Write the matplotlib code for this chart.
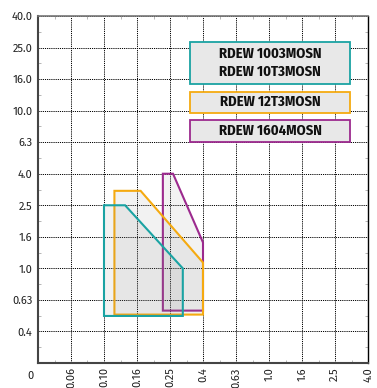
import numpy as np
import matplotlib
matplotlib.use('Agg')
import matplotlib.pyplot as plt
from matplotlib.patches import Rectangle

plt.rcParams['font.family'] = ['Fira Sans', 'DejaVu Sans']

# tick values (equal spacing on the chart)
x_ticks = [0.06, 0.10, 0.16, 0.25, 0.4, 0.63, 1.0, 1.6, 2.5, 4.0]
x_labels = ['0.06', '0.10', '0.16', '0.25', '0.4', '0.63', '1.0', '1.6', '2.5', '4.0']
y_ticks = [0.4, 0.63, 1.0, 1.6, 2.5, 4.0, 6.3, 10.0, 16.0, 25.0, 40.0]
y_labels = ['0.4', '0.63', '1.0', '1.6', '2.5', '4.0', '6.3', '10.0', '16.0', '25.0', '40.0']

# working areas (x, y) for each insert
teal_x = [0.10, 0.10, 0.135, 0.30, 0.30]
teal_y = [0.50, 2.5, 2.5, 1.0, 0.50]
orange_x = [0.116, 0.116, 0.168, 0.40, 0.40]
orange_y = [0.51, 3.1, 3.1, 1.09, 0.51]
purple_x = [0.227, 0.227, 0.261, 0.40, 0.40]
purple_y = [0.54, 4.0, 4.0, 1.47, 0.54]

legend_names = [['RDEW 1003MOSN', 'RDEW 10T3MOSN'], ['RDEW 12T3MOSN'], ['RDEW 1604MOSN']]
colors = ['#1aa3a3', '#f5aa10', '#9c2a8e']


def make_scale(ticks):
    # tick values sit on whole steps, with one extra step below the first tick
    vals = np.array([ticks[0] / 1.6] + list(ticks))
    idx = np.arange(len(vals), dtype=float)
    lv = np.log(vals)

    def fwd(v):
        v = np.clip(np.asarray(v, dtype=float), 1e-9, None)
        return np.interp(np.log(v), lv, idx)

    def inv(i):
        return np.exp(np.interp(np.asarray(i, dtype=float), idx, lv))
    return fwd, inv, len(vals) - 1


W, H = 377, 388
fig = plt.figure(figsize=(W / 100, H / 100), dpi=100)
L, R, T, B = 38, 368, 16, 363
ax = fig.add_axes([L / W, (H - B) / H, (R - L) / W, (B - T) / H])

xf, xi, nx = make_scale(x_ticks)
yf, yi, ny = make_scale(y_ticks)
ax.set_xscale('function', functions=(xf, xi))
ax.set_yscale('function', functions=(yf, yi))
ax.set_xlim(xi(0), xi(nx))
ax.set_ylim(yi(0), yi(ny))

ax.set_xticks(x_ticks)
ax.set_xticklabels(x_labels, rotation=90, fontsize=8, color='#222222')
ax.set_yticks(y_ticks)
ax.set_yticklabels(y_labels, fontsize=8, color='#222222')
ax.set_xticks(xi(np.arange(0.5, nx, 1.0)), minor=True)
ax.set_yticks(yi(np.arange(0.5, ny, 1.0)), minor=True)
ax.tick_params(which='major', length=0, pad=4)
ax.tick_params(axis='x', which='major', pad=3)
ax.tick_params(which='minor', direction='in', length=2.5, width=0.6, color='#aaaaaa',
               top=True, right=True, labelbottom=False, labelleft=False)

ax.grid(True, which='major', color='black', linestyle=(0, (1.2, 1.0)), linewidth=0.7)
ax.set_axisbelow(True)

for side, lw, c in [('left', 1.5, '#444444'), ('bottom', 1.5, '#444444'),
                    ('top', 1.2, '#777777'), ('right', 1.0, 'black')]:
    ax.spines[side].set_linewidth(lw)
    ax.spines[side].set_color(c)

# draw order: purple, orange, teal
for xs, ys, c in [(purple_x, purple_y, colors[2]), (orange_x, orange_y, colors[1]),
                  (teal_x, teal_y, colors[0])]:
    ax.fill(xs, ys, facecolor=(0.5, 0.5, 0.5, 0.1), edgecolor=c, linewidth=1.5,
            joinstyle='miter', zorder=3)


def to_ax(px, py):
    return (px - L) / (R - L), (B - py) / (B - T)


# legend boxes
boxes = [(42.3, 83.7), (91.7, 113.0), (120.3, 141.7)]
for (top, bot), names, c in zip(boxes, legend_names, colors):
    x0, y0 = to_ax(190, bot)
    x1, y1 = to_ax(350, top)
    ax.add_patch(Rectangle((x0, y0), x1 - x0, y1 - y0, transform=ax.transAxes,
                           facecolor='#e8e8e8', edgecolor=c, linewidth=1.3, zorder=5))
    n = len(names)
    for k, name in enumerate(names):
        cy = (top + bot) / 2 + (k - (n - 1) / 2) * 18.4
        tx, ty = to_ax(270, cy)
        ax.text(tx, ty, name, transform=ax.transAxes, ha='center', va='center',
                fontsize=10.5, fontweight='bold', color='#111111', zorder=6,
                family=['Fira Sans Condensed', 'DejaVu Sans'])

fig.text(30 / W, 1 - 376 / H, '0', ha='center', va='center', fontsize=8, color='#222222')

plt.savefig('out.png', dpi=100)
